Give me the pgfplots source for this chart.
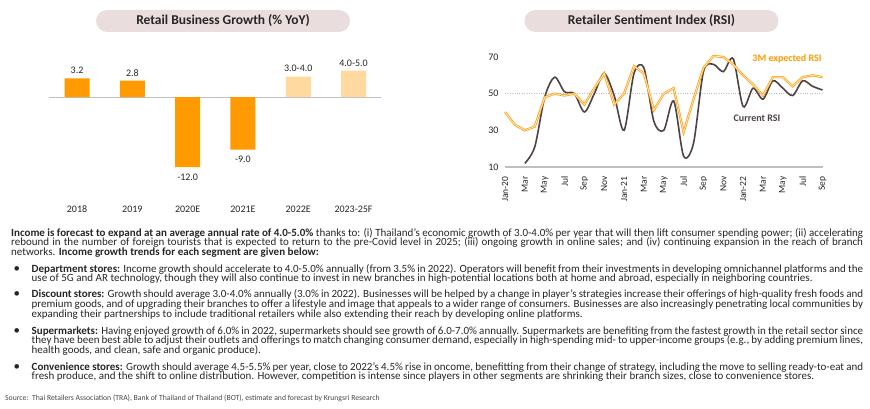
\documentclass[border=0pt]{standalone}
\usepackage{pgfplots}
\pgfplotsset{compat=1.18}
\usepackage{fontspec}
\setmainfont{Carlito}

\definecolor{barorange}{HTML}{FF9A00}
\definecolor{barlight}{HTML}{FFD9A0}
\definecolor{pill}{HTML}{E9DDDD}
\definecolor{rsidark}{HTML}{4F4242}
\definecolor{txt}{HTML}{262626}
\definecolor{axgray}{HTML}{BFBFBF}

\newcommand{\bul}{\noindent\llap{{\fontsize{13}{9}\selectfont\textbullet}\hspace{11.5pt}}}

\begin{document}
\begin{tikzpicture}
\path[use as bounding box] (0pt,0pt) rectangle (870pt,-409pt);

% panel titles
\tikzset{pilltitle/.style={fill=pill, rounded corners=11pt, minimum width=254pt,
  minimum height=22pt, inner sep=0pt, text=txt,
  font=\bfseries\fontsize{13.5}{15}\selectfont}}
\node[pilltitle] at (223pt,-21pt) {Retail Business Growth (\% YoY)};
\node[pilltitle] at (651.5pt,-21pt) {Retailer Sentiment Index (RSI)};

% left: retail business growth
\begin{axis}[
  at={(49.4pt,-202.3pt)}, anchor=south west,
  scale only axis, width=331.8pt, height=134.5pt,
  xmin=-0.5, xmax=5.5, ymin=-18, ymax=5,
  axis line style={draw=none},
  ytick=\empty,
  xtick={0,...,5},
  xticklabels={2018,2019,2020E,2021E,2022E,2023-25F},
  major tick length=0pt,
  xticklabel style={font=\fontsize{10}{12}\selectfont, text=txt},
  extra y ticks={0}, extra y tick labels={},
  extra y tick style={grid=major, major grid style={axgray, line width=1pt}},
  ybar, bar width=25pt, bar shift=0pt,
  clip=false,
  point meta=explicit symbolic,
  nodes near coords,
  every node near coord/.append style={font=\fontsize{10}{12}\selectfont, text=txt, yshift=1pt},
]
\addplot[fill=barorange, draw=none] coordinates {
  (0,3.2) [3.2]
  (1,2.8) [2.8]
};
\addplot[fill=barorange, draw=none,
  every node near coord/.append style={anchor=north, yshift=-4pt}] coordinates {
  (2,-12) [-12.0]
  (3,-9) [-9.0]
};
\addplot[fill=barlight, draw=none] coordinates {
  (4,3.5) [3.0-4.0]
  (5,4.5) [4.0-5.0]
};
\end{axis}

% right: retailer sentiment index
\begin{axis}[
  at={(505pt,-167pt)}, anchor=south west,
  scale only axis, width=317.5pt, height=113.7pt,
  xmin=0, xmax=32, ymin=10, ymax=72,
  axis x line=bottom, axis y line=left,
  x axis line style={axgray, line width=1.2pt, -},
  y axis line style={draw=none},
  major tick length=0pt,
  ytick={10,30,50,70},
  xtick={0,2,...,32},
  xticklabels={Jan-20,Mar,May,Jul,Sep,Nov,Jan-21,Mar,May,Jul,Sep,Nov,Jan-22,Mar,May,Jul,Sep},
  xticklabel shift=6pt,
  xticklabel style={rotate=90, anchor=east, font=\fontsize{9.5}{11}\selectfont, text=txt},
  yticklabel style={font=\fontsize{10}{12}\selectfont, text=txt, xshift=-3pt},
  /pgf/number format/assume math mode=true,
  extra y ticks={50}, extra y tick labels={},
  extra y tick style={grid=major, major grid style={axgray, dotted, line width=0.8pt}},
  clip=false,
]
% current RSI
\addplot[rsidark, line width=1.6pt, smooth, no markers] coordinates {
  (2,12) (3,21) (4,48) (5,59) (6,51) (7,50) (8,40) (9,50) (10,61) (11,49)
  (12,30) (13,61) (14,64) (15,35) (16,30) (17,46) (18,16) (19,23) (20,62)
  (21,66) (22,62) (23,69) (24,43) (25,53) (26,47) (27,57) (28,53) (29,49)
  (30,57) (31,54) (32,52)
};
% 3M expected RSI
\addplot[barorange, line width=0.7pt, double=white!80!barorange, double distance=0.8pt, no markers] coordinates {
  (0,40) (1,33) (2,30) (3,32) (4,48) (5,50) (6,49) (7,50) (8,44) (9,53)
  (10,61) (11,44) (12,50) (13,65) (14,61) (15,41) (16,50) (17,53) (18,29)
  (19,47) (20,64) (21,70.5) (22,70) (23,66) (24,60) (25,55) (26,49) (27,59)
  (28,59) (29,54) (30,59) (31,60) (32,59)
};
\end{axis}
\node[font=\bfseries\fontsize{10}{12}\selectfont, text=barorange] at (787pt,-59pt) {3M expected RSI};
\node[font=\bfseries\fontsize{10}{12}\selectfont, text=rsidark] at (757pt,-118pt) {Current RSI};

% commentary
\node[anchor=north west, inner sep=0pt, text width=852pt, align=justify,
  font=\fontsize{11}{9.55}\selectfont, text=txt] at (11pt,-228pt) {%
\lineskip=0pt\lineskiplimit=-20pt
\textbf{Income is forecast to expand at an average annual rate of 4.0-5.0\%} thanks to: (i) Thailand’s economic growth of 3.0-4.0\% per year that will then lift consumer spending power; (ii) accelerating\linebreak
rebound in the number of foreign tourists that is expected to return to the pre-Covid level in 2025; (iii) ongoing growth in online sales; and (iv) continuing expansion in the reach of branch\linebreak
networks. \textbf{Income growth trends for each segment are given below:}\par
\leftskip=20.5pt
\vspace{7.4pt}\bul\textbf{Department stores:} Income growth should accelerate to 4.0-5.0\% annually (from 3.5\% in 2022). Operators will benefit from their investments in developing omnichannel platforms and the\linebreak
use of 5G and AR technology, though they will also continue to invest in new branches in high-potential locations both at home and abroad, especially in neighboring countries.\par
\vspace{6.6pt}\bul\textbf{Discount stores:} Growth should average 3.0-4.0\% annually (3.0\% in 2022). Businesses will be helped by a change in player’s strategies increase their offerings of high-quality fresh foods and\linebreak
premium goods, and of upgrading their branches to offer a lifestyle and image that appeals to a wider range of consumers. Businesses are also increasingly penetrating local communities by\linebreak
expanding their partnerships to include traditional retailers while also extending their reach by developing online platforms.\par
\vspace{7.4pt}\bul\textbf{Supermarkets:} Having enjoyed growth of 6.0\% in 2022, supermarkets should see growth of 6.0-7.0\% annually. Supermarkets are benefiting from the fastest growth in the retail sector since\linebreak
they have been best able to adjust their outlets and offerings to match changing consumer demand, especially in high-spending mid- to upper-income groups (e.g., by adding premium lines,\linebreak
health goods, and clean, safe and organic produce).\par
\vspace{7.4pt}\bul\textbf{Convenience stores:} Growth should average 4.5-5.5\% per year, close to 2022’s 4.5\% rise in oncome, benefitting from their change of strategy, including the move to selling ready-to-eat and\linebreak
fresh produce, and the shift to online distribution. However, competition is intense since players in other segments are shrinking their branch sizes, close to convenience stores.\par
};

\node[anchor=west, inner sep=0pt, font=\fontsize{7.7}{9}\selectfont, text=txt!85] at (5pt,-398pt)
  {Source:\ \ Thai Retailers Association (TRA), Bank of Thailand of Thailand (BOT), estimate and forecast by Krungsri Research};
\end{tikzpicture}
\end{document}
